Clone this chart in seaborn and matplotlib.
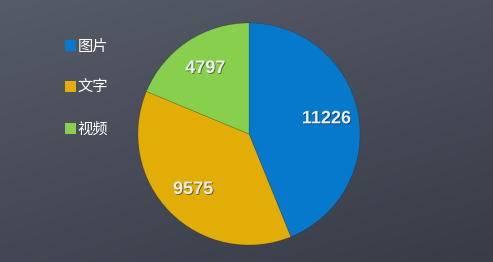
import numpy as np
import matplotlib
matplotlib.use("Agg")
import matplotlib.pyplot as plt
import matplotlib.patheffects as pe
from matplotlib.patches import Patch
import seaborn as sns

categories = ["图片", "文字", "视频"]
values = [11226, 9575, 4797]
colors = ["#0779cc", "#e2ad06", "#88cf4e"]

sns.set_theme(style="white")
plt.rcParams['font.family'] = ['Noto Sans CJK SC', 'DejaVu Sans']

W, H = 493, 262
fig = plt.figure(figsize=(W / 100, H / 100), dpi=100)

# chalkboard-like background gradient
bg = fig.add_axes([0, 0, 1, 1], zorder=0)
yy, xx = np.mgrid[0:1:200j, 0:1:300j]
t = 0.65 * yy + 0.35 * xx
top = np.array([86, 91, 104]) / 255
bot = np.array([56, 60, 71]) / 255
img = top[None, None, :] * (1 - t[..., None]) + bot[None, None, :] * t[..., None]
bg.imshow(img, aspect='auto', extent=[0, 1, 0, 1])
bg.axis('off')

cx, cy, r = 249, 134, 111
ax = fig.add_axes([(cx - r) / W, (H - cy - r) / H, 2 * r / W, 2 * r / H], zorder=1)
wedges, texts = ax.pie(values, colors=colors, startangle=90, counterclock=False,
                       labels=[str(v) for v in values], labeldistance=0.71,
                       wedgeprops=dict(linewidth=0.6, edgecolor=(0, 0, 0, 0.15)),
                       radius=1.0)
for t_ in texts:
    t_.set_family(['Liberation Sans', 'DejaVu Sans'])
    t_.set_fontweight('bold')
    t_.set_fontsize(13)
    t_.set_color('#eeeeee')
    t_.set_ha('center')
    t_.set_va('center')
    t_.set_path_effects([pe.withSimplePatchShadow(offset=(0.6, -0.6), shadow_rgbFace='black', alpha=0.5)])
ax.set_xlim(-1, 1)
ax.set_ylim(-1, 1)
ax.set_aspect('equal')
ax.axis('off')

handles = [Patch(facecolor=c, edgecolor='none') for c in colors]
leg = fig.legend(handles, categories, loc='upper left', bbox_to_anchor=(57 / W, 1 - 30 / H),
                 frameon=False, fontsize=11, handlelength=0.75, handleheight=0.75,
                 handletextpad=0.1, labelspacing=1.6, borderpad=0)
for txt in leg.get_texts():
    txt.set_color('white')

fig.savefig('out.png', dpi=100)
